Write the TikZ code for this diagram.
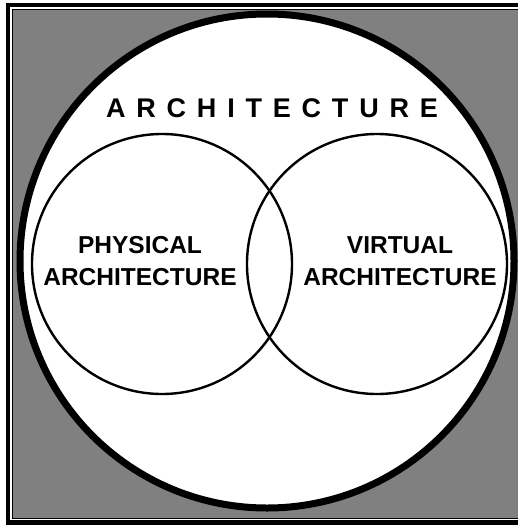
\documentclass[tikz,border=0pt]{standalone}
\usepackage{fontspec}
\setmainfont{Liberation Sans}
\definecolor{gray1}{RGB}{128, 128, 128}

\begin{document}
\begin{tikzpicture}[x=0.5pt, y=-0.5pt, line width=1.2pt,
    ring/.style={circle, draw, inner sep=0pt},
    txt/.style={align=center, font=\bfseries\fontsize{12.25}{16}\selectfont}]
  \useasboundingbox (0,0) rectangle (518,525);
  % frame round the picture
  \fill[white] (0,0) rectangle (518,525);
  \fill[black] (6,3) rectangle (518,525);
  \fill[white] (10,7) rectangle (518,520);
  \fill[black] (11.5,8.5) rectangle (518,518.5);
  \fill[gray1] (13,10) rectangle (518,518);

  \node[ring, fill=white, line width=3.5pt, minimum size=247pt] (arch) at (267,261) {};
  \node[ring, minimum size=130pt] (phys) at (162,264) {};
  \node[ring, minimum size=130pt] (virt) at (377,264) {};

  \node[font=\bfseries\fontsize{13.5}{16}\selectfont\addfontfeature{LetterSpace=40}] (title) at (272,108) {ARCHITECTURE};
  \node[txt] (tphys) at (140,261) {PHYSICAL\\ARCHITECTURE};
  \node[txt] (tvirt) at (400,261) {VIRTUAL\\ARCHITECTURE};
\end{tikzpicture}
\end{document}
